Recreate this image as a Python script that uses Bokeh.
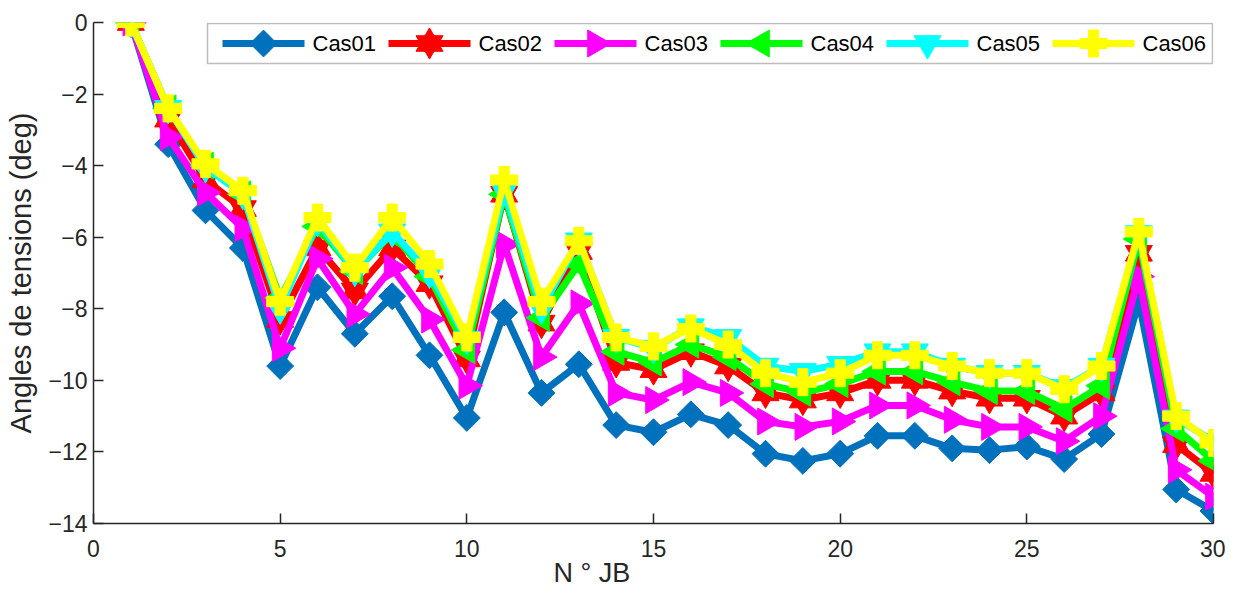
import math
from bokeh.plotting import figure
from bokeh.models import Range1d, BoxAnnotation, Label, Title
from bokeh.embed import file_html
from bokeh.resources import INLINE

bus = list(range(1, 31))
cas01 = [0, -3.4, -5.25, -6.3, -9.6, -7.4, -8.7, -7.65, -9.3, -11.05, -8.1, -10.35, -9.55, -11.25, -11.45,
         -10.95, -11.25, -12.05, -12.25, -12.05, -11.55, -11.55, -11.9, -11.95, -11.85, -12.2, -11.5, -7.8, -13.05, -13.65]
cas02 = [0, -2.7, -4.4, -5.2, -8.3, -6.3, -7.5, -6.3, -7.3, -9.4, -4.8, -8.4, -6.4, -9.5, -9.7,
         -9.2, -9.6, -10.35, -10.55, -10.35, -10.0, -10.0, -10.3, -10.5, -10.5, -11.0, -10.35, -6.45, -11.8, -12.6]
cas03 = [0, -3.2, -4.75, -5.75, -9.1, -6.6, -8.15, -6.85, -8.3, -10.15, -6.2, -9.35, -7.85, -10.35, -10.55,
         -10.05, -10.35, -11.15, -11.3, -11.15, -10.7, -10.7, -11.1, -11.3, -11.3, -11.7, -11.0, -7.1, -12.5, -13.25]
cas04 = [0, -2.4, -4.0, -4.8, -7.7, -5.7, -6.95, -5.9, -7.1, -9.15, -4.8, -8.25, -6.75, -9.2, -9.5,
         -9.0, -9.35, -10.1, -10.35, -10.1, -9.75, -9.75, -10.05, -10.3, -10.3, -10.8, -10.15, -6.05, -11.35, -12.25]
cas05 = [0, -2.4, -4.05, -4.8, -8.0, -5.55, -6.95, -5.85, -7.0, -8.85, -4.7, -8.0, -6.1, -8.8, -9.1,
         -8.5, -8.8, -9.6, -9.75, -9.55, -9.2, -9.2, -9.6, -9.8, -9.8, -10.2, -9.6, -5.9, -11.05, -11.7]
cas06 = [0, -2.4, -3.95, -4.7, -7.8, -5.45, -6.85, -5.45, -6.75, -8.8, -4.4, -7.8, -6.1, -8.8, -9.05,
         -8.55, -9.0, -9.8, -10.05, -9.8, -9.3, -9.3, -9.6, -9.8, -9.8, -10.25, -9.6, -5.85, -11.0, -11.75]

names = ["Cas01", "Cas02", "Cas03", "Cas04", "Cas05", "Cas06"]
series = [cas01, cas02, cas03, cas04, cas05, cas06]
colors = ["#0072BD", "#FF0000", "#FF00FF", "#00FF00", "#00FFFF", "#FFFF00"]
x_ticks = [0, 5, 10, 15, 20, 25, 30]
y_ticks = [-14, -12, -10, -8, -6, -4, -2, 0]
x_title = "N ° JB"
y_title = "Angles de tensions (deg)"

# marker styles (hexagram = two overlapping triangles)
markers = [
    [("square", math.pi / 4, 19)],
    [("triangle", 0, 27), ("inverted_triangle", 0, 27)],
    [("triangle", -math.pi / 2, 27)],
    [("triangle", math.pi / 2, 27)],
    [("inverted_triangle", 0, 27)],
    [("plus", 0, 27)],
]

FONT = "Liberation Sans"
AX = "#262626"
W, H = 1225, 590
BL, BR, BT, BB = 93, 12, 22, 67
FW, FH = W - BL - BR, H - BT - BB

p = figure(width=W, height=H, output_backend="svg", toolbar_location=None,
           x_range=(0, 30), y_range=(-14, 0),
           min_border_left=BL, min_border_right=BR, min_border_top=BT, min_border_bottom=BB)
p.outline_line_color = None
p.grid.visible = False
p.background_fill_color = "white"
p.border_fill_color = "white"

# pixel coordinate system of the frame, used only for the legend layout
p.extra_x_ranges = {"px": Range1d(0, FW)}
p.extra_y_ranges = {"py": Range1d(0, FH)}

for ax in (p.xaxis[0], p.yaxis[0]):
    ax.axis_line_color = AX
    ax.axis_line_width = 1.5
    ax.major_tick_line_color = AX
    ax.major_tick_line_width = 1.5
    ax.major_tick_in = 10
    ax.major_tick_out = 0
    ax.minor_tick_line_color = None
    ax.major_label_text_font = FONT
    ax.major_label_text_font_size = "23px"
    ax.major_label_text_color = AX
    ax.axis_label_text_font = FONT
    ax.axis_label_text_font_size = "29px"
    ax.axis_label_text_font_style = "normal"
    ax.axis_label_text_color = AX

p.xaxis.ticker = x_ticks
p.yaxis.ticker = y_ticks
p.yaxis.axis_label = y_title
p.xaxis.major_label_standoff = 16
p.yaxis.major_label_standoff = 6
p.yaxis.axis_label_standoff = 8

# x-axis title: placed left of centre like the original so it clears the tick labels
p.add_layout(Title(text=x_title, align="left", offset=553 - BL, standoff=-8,
                   text_font=FONT, text_font_size="27px", text_font_style="normal",
                   text_color=AX), "below")

for ys, col, mks in zip(series, colors, markers):
    p.line(bus, ys, line_color=col, line_width=7)
    for mk, ang, sz in mks:
        p.scatter(bus, ys, marker=mk, angle=ang, size=sz,
                  fill_color=col, line_color=col, line_width=1)

# ---- legend (drawn manually so markers keep their full size) ----
box_l, box_r, box_t, box_b = 207 - BL, 1212 - BL, 23 - BT, 63 - BT
p.add_layout(BoxAnnotation(left=box_l, right=box_r, top=FH - box_t, bottom=FH - box_b,
                           x_range_name="px", y_range_name="py",
                           fill_color="white", fill_alpha=1.0,
                           line_color=AX, line_width=1.5, level="annotation"))
item_x0, item_step, glyph_w, text_gap = 222 - BL, 166, 82, 90
ly = FH - (43 - BT)
for i, (name, col, mks) in enumerate(zip(names, colors, markers)):
    x0 = item_x0 + i * item_step
    p.line([x0, x0 + glyph_w], [ly, ly], line_color=col, line_width=7,
           x_range_name="px", y_range_name="py", level="overlay")
    for mk, ang, sz in mks:
        p.scatter([x0 + glyph_w / 2], [ly], marker=mk, angle=ang, size=sz,
                  fill_color=col, line_color=col, line_width=1,
                  x_range_name="px", y_range_name="py", level="overlay")
    p.add_layout(Label(x=x0 + text_gap, y=ly, text=name, x_range_name="px", y_range_name="py",
                       text_font=FONT, text_font_size="22px", text_color="black",
                       text_baseline="middle", text_align="left", level="overlay"))

open("out.html", "w").write(file_html(p, INLINE))
